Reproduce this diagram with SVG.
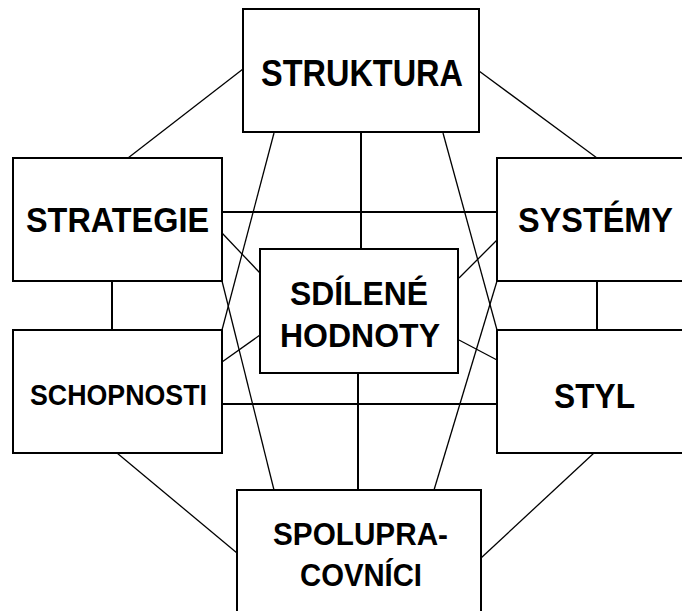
<svg xmlns="http://www.w3.org/2000/svg" width="682" height="611" viewBox="0 0 682 611">
<style>
.box{fill:#fff;stroke:#000;stroke-width:2}
.t{font-family:"Liberation Sans",Arial,sans-serif;font-weight:bold;fill:#000}
.ln{stroke:#000;stroke-width:2;fill:none}
.dg{stroke:#000;stroke-width:1.3;fill:none}
</style>
<rect width="682" height="611" fill="#fff"/>
<g id="connectors">
<line class="dg" x1="243" y1="69" x2="128" y2="158"/>
<line class="dg" x1="479" y1="71" x2="597" y2="158"/>
<line class="ln" x1="361" y1="132" x2="361" y2="249"/>
<line class="dg" x1="274" y1="133" x2="222" y2="330"/>
<line class="dg" x1="222" y1="281" x2="274" y2="490"/>
<line class="dg" x1="443" y1="133" x2="497" y2="330"/>
<line class="dg" x1="497" y1="281" x2="434" y2="490"/>
<line class="ln" x1="222" y1="212" x2="497" y2="212"/>
<line class="dg" x1="222" y1="233" x2="260" y2="273"/>
<line class="dg" x1="459" y1="278" x2="497" y2="240"/>
<line class="dg" x1="222" y1="362" x2="260" y2="335"/>
<line class="dg" x1="459" y1="340" x2="497" y2="360"/>
<line class="ln" x1="222" y1="404" x2="497" y2="404"/>
<line class="ln" x1="358" y1="373" x2="358" y2="490"/>
<line class="ln" x1="112" y1="281" x2="112" y2="330"/>
<line class="ln" x1="597" y1="281" x2="597" y2="330"/>
<line class="dg" x1="117" y1="453" x2="237" y2="553"/>
<line class="dg" x1="594" y1="453" x2="481" y2="558"/>
</g>
<g id="struktura">
<rect class="box" x="243" y="9" width="236" height="123"/>
<text class="t" x="261" y="86" font-size="36" textLength="202" lengthAdjust="spacingAndGlyphs">STRUKTURA</text>
</g>
<g id="strategie">
<rect class="box" x="13" y="158" width="209" height="123"/>
<text class="t" x="26" y="232" font-size="35" textLength="183" lengthAdjust="spacingAndGlyphs">STRATEGIE</text>
</g>
<g id="systemy">
<rect class="box" x="497" y="158" width="190" height="123"/>
<text class="t" x="518" y="232" font-size="35" textLength="155" lengthAdjust="spacingAndGlyphs">SYSTÉMY</text>
</g>
<g id="sdilene-hodnoty">
<rect class="box" x="260" y="249" width="198" height="124"/>
<text class="t" x="290" y="305" font-size="33" textLength="138" lengthAdjust="spacingAndGlyphs">SDÍLENÉ</text>
<text class="t" x="280" y="347" font-size="33" textLength="160" lengthAdjust="spacingAndGlyphs">HODNOTY</text>
</g>
<g id="schopnosti">
<rect class="box" x="13" y="330" width="209" height="123"/>
<text class="t" x="30" y="405" font-size="29" textLength="177" lengthAdjust="spacingAndGlyphs">SCHOPNOSTI</text>
</g>
<g id="styl">
<rect class="box" x="497" y="330" width="190" height="123"/>
<text class="t" x="554" y="408" font-size="35" textLength="81" lengthAdjust="spacingAndGlyphs">STYL</text>
</g>
<g id="spolupracovnici">
<rect class="box" x="237" y="490" width="244" height="130"/>
<text class="t" x="273" y="545" font-size="31" textLength="175" lengthAdjust="spacingAndGlyphs">SPOLUPRA-</text>
<text class="t" x="300" y="586" font-size="31" textLength="122" lengthAdjust="spacingAndGlyphs">COVNÍCI</text>
</g>
</svg>
